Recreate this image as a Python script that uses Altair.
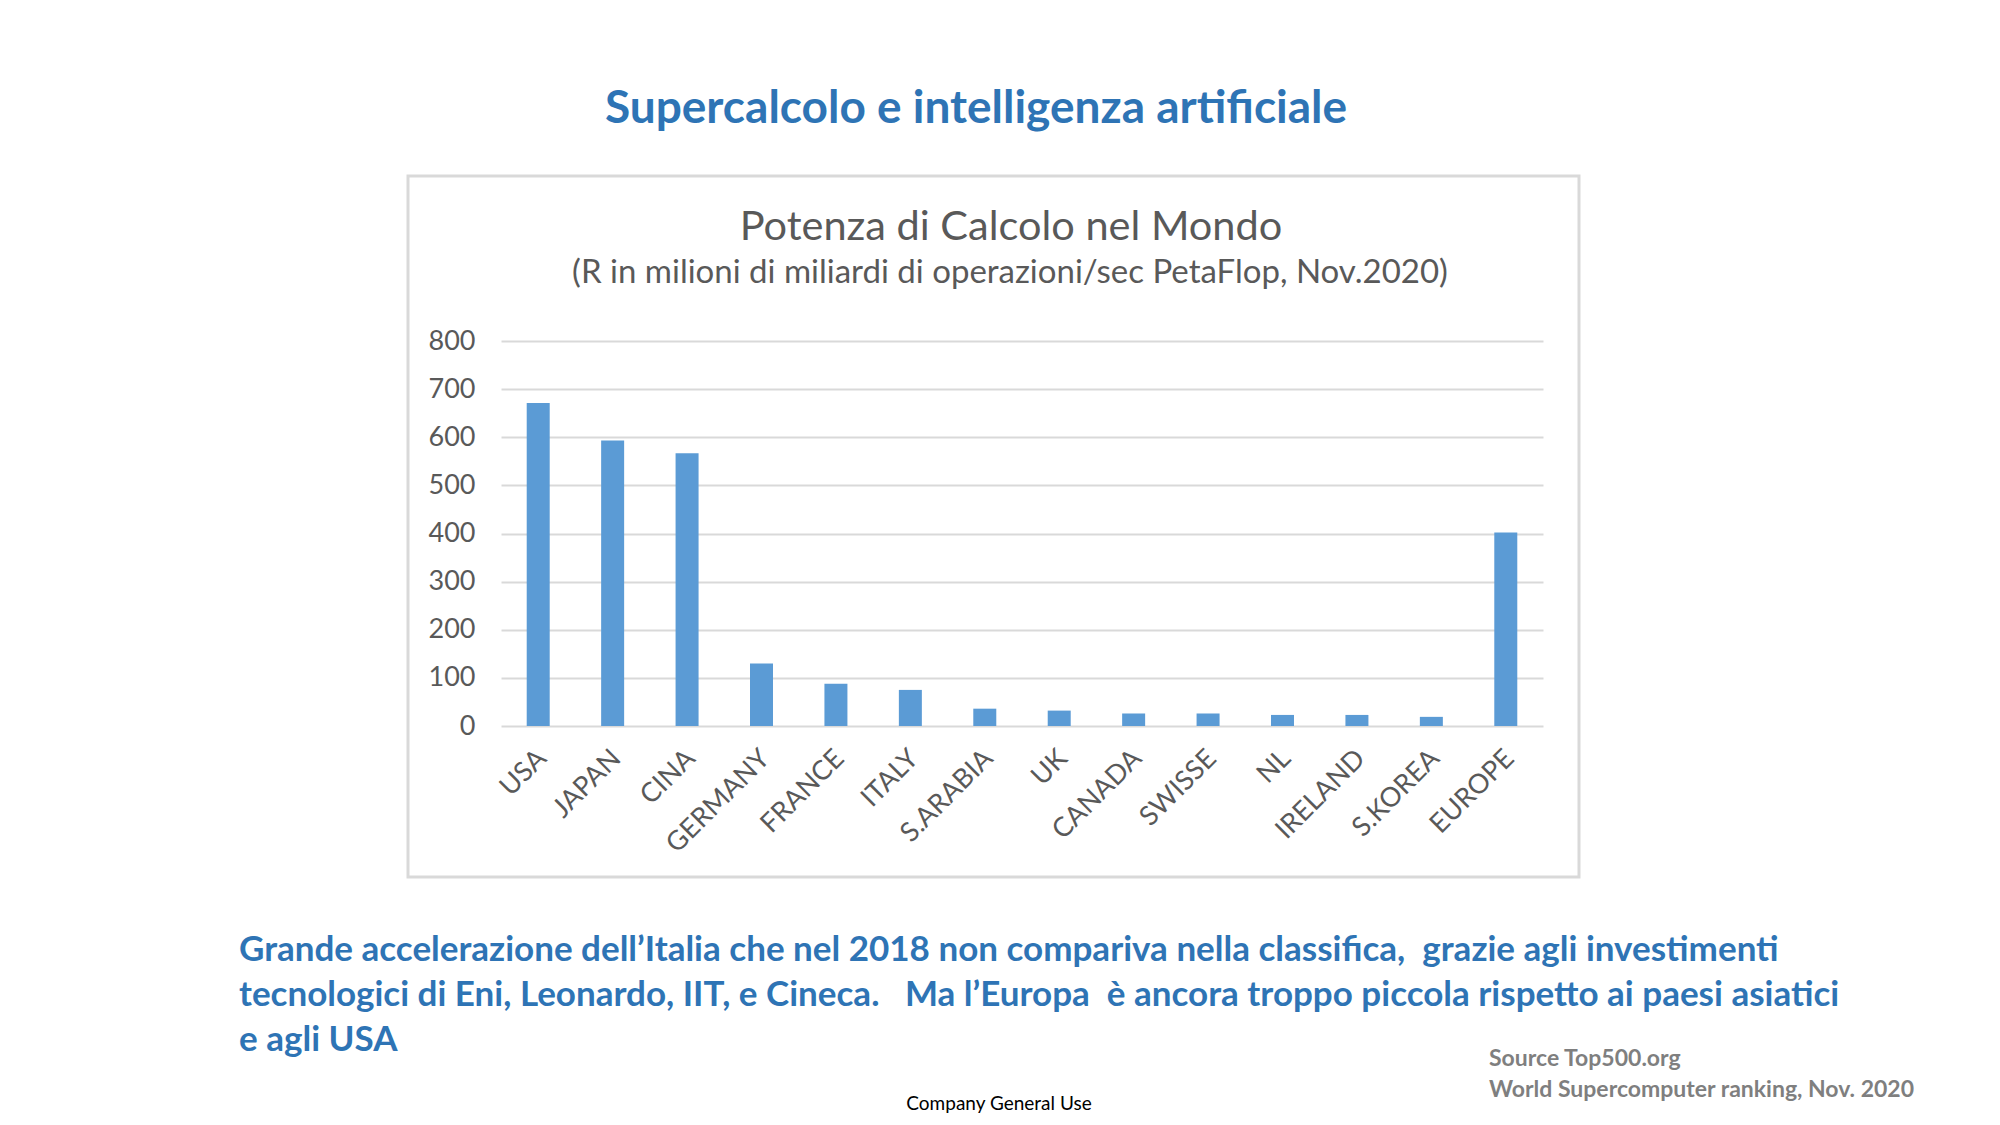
import altair as alt
import pandas as pd

# ---- data ----
countries = ["USA", "JAPAN", "CINA", "GERMANY", "FRANCE", "ITALY", "S.ARABIA",
             "UK", "CANADA", "SWISSE", "NL", "IRELAND", "S.KOREA", "EUROPE"]
petaflops = [671, 593, 567, 130, 88, 75, 36, 32, 26, 26, 23, 23, 19, 402]
y_ticks = [0, 100, 200, 300, 400, 500, 600, 700, 800]

slide_title = "Supercalcolo e intelligenza artificiale"
chart_title = "Potenza di Calcolo nel Mondo"
chart_subtitle = "(R in milioni di miliardi di operazioni/sec PetaFlop, Nov.2020)"
note_lines = [
    "Grande accelerazione dell\u2019Italia che nel 2018 non compariva nella classifica,\u00a0 grazie agli investimenti",
    "tecnologici di Eni, Leonardo, IIT, e Cineca.\u00a0\u00a0 Ma l\u2019Europa\u00a0 \u00e8 ancora troppo piccola rispetto ai paesi asiatici",
    "e agli USA",
]
source_lines = ["Source Top500.org", "World Supercomputer ranking, Nov. 2020"]
footer = "Company General Use"

# ---- styling ----
FONT = "Lato"
BLUE_TEXT = "#2E74B5"
BAR = "#5B9BD5"
GRAY = "#595959"
GRID = "#D9D9D9"

df = pd.DataFrame({"country": countries, "value": petaflops})

# plot-area origin in page pixels: (501, 341); size 1042 x 385
W, H = 1042, 385
PL, PT = 501, 341


def text_layer(txt, x, y, size, color, weight="normal", align="center",
               baseline="middle", line_height=None):
    kw = dict(font=FONT, fontSize=size, color=color, fontWeight=weight,
              align=align, baseline=baseline, lineBreak="\n")
    if line_height is not None:
        kw["lineHeight"] = line_height
    return alt.Chart(pd.DataFrame({"t": [txt]})).mark_text(**kw).encode(
        text="t:N", x=alt.value(x - PL), y=alt.value(y - PT))


frame = alt.Chart(pd.DataFrame({"k": [0]})).mark_rect(
    fill="transparent", stroke=GRID, strokeWidth=3
).encode(x=alt.value(408 - PL), x2=alt.value(1579 - PL),
         y=alt.value(176 - PT), y2=alt.value(877 - PT))

bars = alt.Chart(df).mark_bar(size=23, color=BAR).encode(
    x=alt.X("country:N", sort=countries,
            scale=alt.Scale(paddingInner=0, paddingOuter=0),
            axis=alt.Axis(title=None, labelAngle=-45, labelAlign="right",
                          labelBaseline="middle", labelFont=FONT,
                          labelFontSize=27, labelColor=GRAY, ticks=False,
                          domain=False, grid=False, labelPadding=28,
                          labelOffset=4)),
    y=alt.Y("value:Q", scale=alt.Scale(domain=[0, 800], nice=False),
            axis=alt.Axis(title=None, values=y_ticks, labelFont=FONT,
                          labelFontSize=27, labelColor=GRAY, ticks=False,
                          domain=False, grid=True, gridColor=GRID,
                          gridWidth=2, labelPadding=26)),
)

layers = [
    frame,
    bars,
    text_layer(slide_title, 976, 109, 46, BLUE_TEXT, weight="bold"),
    text_layer(chart_title, 1011, 228, 41.5, GRAY),
    text_layer(chart_subtitle, 1010, 273, 33, GRAY),
    text_layer("\n".join(note_lines), 239, 950, 35, BLUE_TEXT, weight="bold",
               align="left", line_height=45),
    text_layer("\n".join(source_lines), 1489, 1059, 23, "#7F7F7F",
               weight="bold", align="left", line_height=31),
    text_layer(footer, 999, 1104, 19, "#000000"),
]

chart = alt.layer(*layers).properties(
    width=W, height=H,
    autosize="none",
    padding={"left": PL, "top": PT, "right": 2000 - PL - W,
             "bottom": 1125 - PT - H},
    background="white",
).configure_view(stroke=None)

chart.save("out.html", embed_options={"renderer": "svg", "actions": False})
